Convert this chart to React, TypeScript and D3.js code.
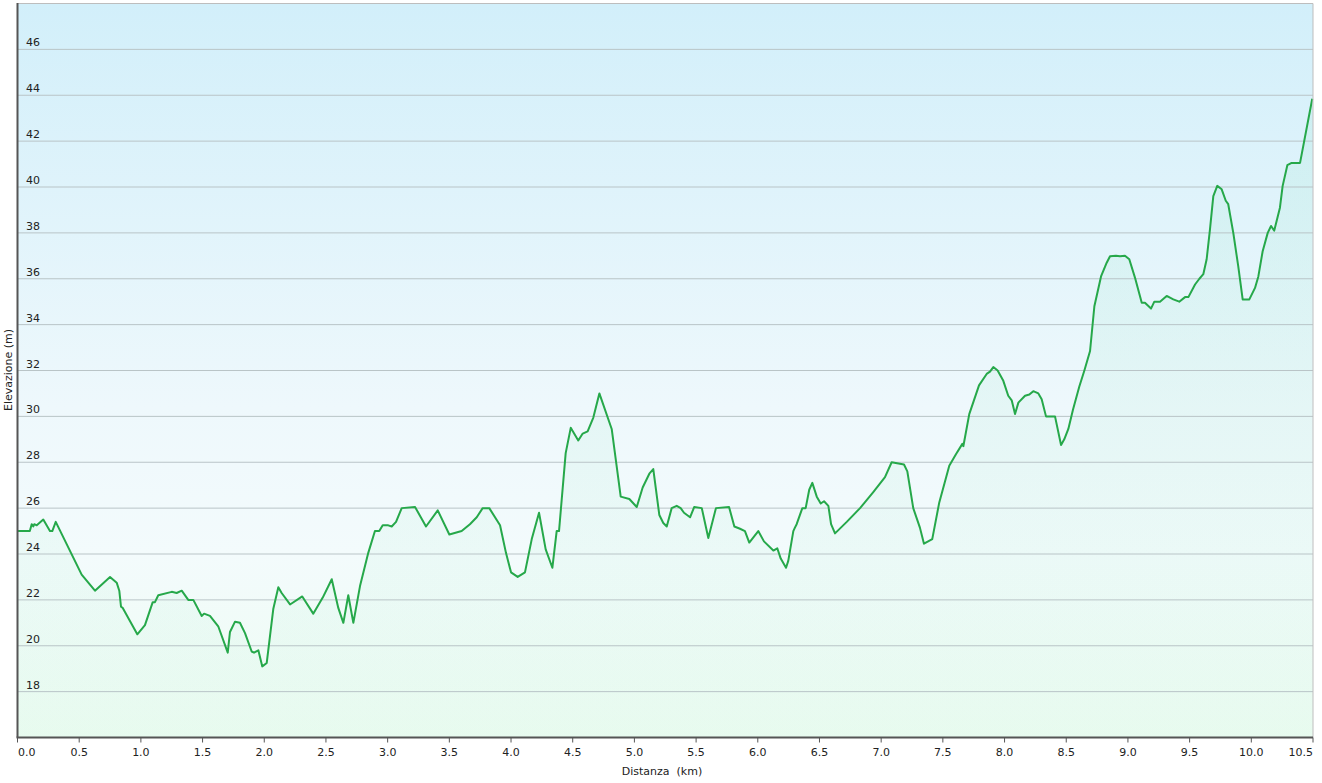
import { useMemo } from "react";
import { scaleLinear, line, area, range } from "d3";

// distance along the track (km)
const distKm = [
  0.0, 0.1, 0.115, 0.128, 0.136, 0.156, 0.209, 0.263, 0.282, 0.31,
  0.52, 0.628, 0.75, 0.804, 0.825, 0.839, 0.853, 0.971, 1.033, 1.096,
  1.114, 1.141, 1.25, 1.29, 1.331, 1.384, 1.425, 1.493, 1.512, 1.56,
  1.627, 1.704, 1.722, 1.763, 1.803, 1.844, 1.898, 1.917, 1.952, 1.984,
  2.02, 2.073, 2.114, 2.141, 2.209, 2.308, 2.397, 2.474, 2.547, 2.6,
  2.641, 2.681, 2.722, 2.776, 2.843, 2.897, 2.932, 2.96, 3.005, 3.033,
  3.068, 3.114, 3.222, 3.311, 3.406, 3.5, 3.6, 3.667, 3.722, 3.77,
  3.824, 3.911, 3.959, 4.0, 4.054, 4.113, 4.168, 4.227, 4.281, 4.335,
  4.37, 4.389, 4.443, 4.484, 4.545, 4.581, 4.621, 4.667, 4.716, 4.816,
  4.889, 4.959, 5.019, 5.067, 5.121, 5.153, 5.202, 5.234, 5.262, 5.302,
  5.343, 5.375, 5.402, 5.451, 5.485, 5.546, 5.599, 5.661, 5.767, 5.81,
  5.856, 5.896, 5.931, 6.004, 6.05, 6.126, 6.158, 6.186, 6.229, 6.247,
  6.288, 6.301, 6.315, 6.361, 6.388, 6.417, 6.442, 6.478, 6.51, 6.537,
  6.572, 6.594, 6.626, 6.721, 6.829, 6.936, 7.031, 7.085, 7.185, 7.212,
  7.26, 7.314, 7.347, 7.414, 7.471, 7.552, 7.606, 7.658, 7.666, 7.714,
  7.793, 7.855, 7.882, 7.909, 7.944, 7.99, 8.03, 8.058, 8.085, 8.112,
  8.166, 8.201, 8.233, 8.274, 8.301, 8.336, 8.409, 8.458, 8.484, 8.517,
  8.555, 8.606, 8.647, 8.693, 8.728, 8.782, 8.828, 8.855, 8.903, 8.936,
  8.976, 9.011, 9.057, 9.112, 9.138, 9.187, 9.214, 9.26, 9.314, 9.368,
  9.416, 9.463, 9.49, 9.544, 9.579, 9.611, 9.638, 9.665, 9.692, 9.724,
  9.76, 9.793, 9.813, 9.854, 9.894, 9.93, 9.984, 10.03, 10.057, 10.092,
  10.133, 10.16, 10.186, 10.232, 10.254, 10.292, 10.327, 10.395, 10.494,
];

// elevation (m)
const elevM = [
  25.0, 25.0, 25.3, 25.2, 25.3, 25.25, 25.5, 25.0, 25.0, 25.4,
  23.1, 22.4, 23.0, 22.75, 22.4, 21.7, 21.65, 20.5, 20.9, 21.9,
  21.9, 22.2, 22.35, 22.3, 22.4, 22.0, 22.0, 21.3, 21.4, 21.3,
  20.85, 19.7, 20.6, 21.05, 21.0, 20.55, 19.75, 19.7, 19.8, 19.1,
  19.25, 21.6, 22.55, 22.3, 21.8, 22.15, 21.4, 22.1, 22.9, 21.65,
  21.0, 22.2, 21.0, 22.6, 24.05, 25.0, 25.0, 25.25, 25.25, 25.2,
  25.4, 26.0, 26.05, 25.2, 25.9, 24.85, 25.0, 25.3, 25.6, 26.0,
  26.0, 25.25, 24.05, 23.2, 23.0, 23.2, 24.65, 25.8, 24.2, 23.4,
  25.0, 25.0, 28.4, 29.5, 28.95, 29.25, 29.35, 29.95, 31.0, 29.45,
  26.5, 26.4, 26.05, 26.9, 27.5, 27.7, 25.7, 25.35, 25.2, 26.0,
  26.1, 26.0, 25.8, 25.6, 26.05, 26.0, 24.7, 26.0, 26.05, 25.2,
  25.1, 25.0, 24.5, 25.0, 24.55, 24.15, 24.25, 23.8, 23.4, 23.7,
  25.0, 25.15, 25.3, 26.0, 26.0, 26.8, 27.1, 26.5, 26.2, 26.3,
  26.1, 25.3, 24.9, 25.4, 26.0, 26.7, 27.35, 28.0, 27.9, 27.6,
  26.0, 25.15, 24.45, 24.65, 26.25, 27.85, 28.35, 28.8, 28.7, 30.1,
  31.35, 31.85, 31.95, 32.15, 32.0, 31.55, 30.9, 30.7, 30.1, 30.6,
  30.9, 30.95, 31.1, 31.0, 30.75, 30.0, 30.0, 28.75, 29.0, 29.45,
  30.3, 31.3, 32.0, 32.85, 34.8, 36.1, 36.7, 36.98, 37.0, 36.98,
  37.0, 36.85, 36.05, 34.95, 34.95, 34.7, 35.0, 35.0, 35.25, 35.1,
  35.0, 35.2, 35.2, 35.75, 36.0, 36.2, 36.85, 38.15, 39.6, 40.05,
  39.9, 39.4, 39.25, 38.0, 36.55, 35.1, 35.1, 35.6, 36.1, 37.2,
  38.0, 38.3, 38.1, 39.1, 40.05, 40.95, 41.05, 41.05, 43.85,
];

const yTicks = [18, 20, 22, 24, 26, 28, 30, 32, 34, 36, 38, 40, 42, 44, 46];
const xTicks = range(0, 10.51, 0.5);

const W = 1322;
const H = 783;
const left = 17.5;
const right = 1313;
const top = 3.5;
const bottom = 737.5;

const font = "'DejaVu Sans', Verdana, sans-serif";

export default function App() {
  const x = scaleLinear().domain([0, 10.5]).range([left, right]);
  const y = scaleLinear().domain([16, 48]).range([bottom, top]);

  const pts = useMemo(() => distKm.map((d, i) => [d, elevM[i]] as [number, number]), []);

  const lineGen = line<[number, number]>()
    .x((d) => x(d[0]))
    .y((d) => y(d[1]));
  const areaGen = area<[number, number]>()
    .x((d) => x(d[0]))
    .y0(bottom)
    .y1((d) => y(d[1]));

  return (
    <div style={{ position: "absolute", left: 0, top: 0 }}>
      <svg width={W} height={H} style={{ display: "block", background: "#fff" }}>
        <defs>
          <linearGradient id="bg" x1="0" y1="0" x2="0" y2="1">
            <stop offset="0" stopColor="#d2effa" />
            <stop offset="0.55" stopColor="#eef8fc" />
            <stop offset="0.75" stopColor="#f3fbfc" />
            <stop offset="1" stopColor="#edfcf2" />
          </linearGradient>
          <linearGradient id="fill" x1="0" y1="0" x2="0" y2="1">
            <stop offset="0" stopColor="#30d080" stopOpacity={0.07} />
            <stop offset="1" stopColor="#30d080" stopOpacity={0.03} />
          </linearGradient>
        </defs>

        <rect x={left} y={top} width={right - left} height={bottom - top} fill="url(#bg)" />
        <path d={areaGen(pts)!} fill="url(#fill)" />

        {yTicks.map((t) => (
          <g key={t}>
            <line x1={left} x2={right} y1={y(t)} y2={y(t)} stroke="#b9c4c7" strokeWidth={1} />
            <text x={26} y={y(t) - 3} fontFamily={font} fontSize={11} fill="#222">
              {t}
            </text>
          </g>
        ))}

        <path d={lineGen(pts)!} fill="none" stroke="#26a84a" strokeWidth={2} strokeLinejoin="round" />

        {/* frame */}
        <line x1={left} x2={right} y1={top} y2={top} stroke="#bdbdbd" strokeWidth={1} />
        <line x1={right} x2={right} y1={top} y2={bottom} stroke="#bdbdbd" strokeWidth={1} />
        <line x1={left} x2={left} y1={top - 0.5} y2={bottom} stroke="#555" strokeWidth={2} />
        <line x1={left - 1} x2={right} y1={bottom} y2={bottom} stroke="#555" strokeWidth={2} />

        {xTicks.map((t, i) => (
          <g key={t}>
            <line x1={x(t)} x2={x(t)} y1={bottom} y2={bottom + 5} stroke="#555" strokeWidth={1} />
            <text
              x={x(t) + (i === 0 ? 0.5 : 0)}
              y={756}
              fontFamily={font}
              fontSize={11}
              fill="#222"
              textAnchor={i === 0 ? "start" : i === xTicks.length - 1 ? "end" : "middle"}
            >
              {t.toFixed(1)}
            </text>
          </g>
        ))}

        <text x={662} y={775} fontFamily={font} fontSize={11} fill="#222" textAnchor="middle" xmlSpace="preserve">
          {"Distanza  (km)"}
        </text>
        <text
          transform={`translate(12, 370) rotate(-90)`}
          fontFamily={font}
          fontSize={11}
          fill="#222"
          textAnchor="middle"
        >
          Elevazione (m)
        </text>
      </svg>
    </div>
  );
}
